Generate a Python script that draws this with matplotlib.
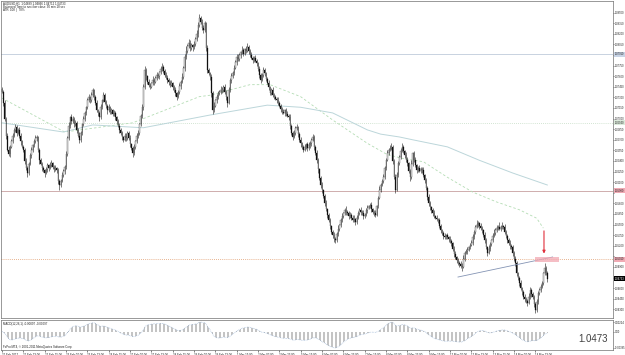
import numpy as np
import pandas as pd
import matplotlib
matplotlib.use("Agg")
import matplotlib.pyplot as plt

plt.rcParams['font.family'] = ['Liberation Sans', 'DejaVu Sans']

# ---------------- data (prices in pips above 1.0000) ----------------
close_pips = [
    738, 722, 700, 676, 656, 650, 660, 668, 676, 684,
    688, 680, 684, 676, 668, 660, 656, 640, 630, 623,
    636, 648, 656, 662, 668, 672, 674, 655, 641, 636,
    630, 627, 623, 628, 634, 630, 635, 637, 632, 628,
    630, 627, 612, 606, 612, 620, 626, 631, 650, 672,
    690, 702, 696, 700, 692, 694, 684, 676, 670, 680,
    692, 700, 708, 716, 726, 730, 726, 734, 740, 730,
    722, 712, 708, 702, 716, 726, 733, 724, 718, 712,
    716, 710, 712, 706, 708, 702, 696, 690, 684, 680,
    674, 670, 676, 672, 680, 672, 664, 658, 651, 660,
    668, 676, 680, 692, 704, 716, 744, 769, 760, 752,
    748, 745, 750, 755, 752, 758, 762, 760, 766, 770,
    773, 768, 762, 758, 755, 752, 748, 750, 745, 740,
    736, 731, 738, 746, 752, 759, 772, 787, 796, 802,
    807, 800, 804, 801, 806, 812, 820, 832, 842, 836,
    828, 825, 835, 800, 769, 764, 759, 736, 712, 718,
    726, 731, 736, 738, 741, 740, 745, 738, 730, 722,
    740, 755, 760, 765, 772, 780, 787, 784, 790, 794,
    797, 792, 798, 796, 801, 796, 790, 786, 783, 786,
    782, 778, 770, 762, 755, 762, 769, 764, 756, 751,
    744, 736, 740, 734, 730, 728, 726, 722, 718, 714,
    710, 708, 712, 706, 704, 702, 690, 680, 674, 680,
    686, 688, 678, 670, 665, 660, 656, 660, 664, 658,
    662, 665, 670, 674, 660, 651, 641, 628, 616, 606,
    599, 590, 580, 572, 564, 556, 548, 540, 535, 530,
    528, 536, 544, 549, 556, 562, 566, 571, 568, 566,
    562, 564, 560, 556, 558, 554, 560, 566, 571, 568,
    566, 562, 564, 570, 574, 576, 578, 572, 568, 566,
    564, 576, 588, 599, 606, 612, 617, 630, 642, 651,
    656, 658, 660, 640, 618, 599, 620, 637, 646, 654,
    660, 654, 648, 642, 637, 626, 617, 636, 651, 642,
    634, 627, 630, 626, 629, 627, 620, 613, 602, 589,
    580, 575, 570, 566, 562, 560, 558, 556, 548, 542,
    538, 534, 532, 535, 532, 530, 527, 524, 516, 508,
    504, 500, 496, 494, 492, 490, 502, 510, 512, 514,
    518, 521, 524, 532, 540, 547, 550, 552, 548, 545,
    542, 535, 528, 518, 510, 516, 522, 528, 534, 538,
    542, 545, 547, 544, 546, 548, 547, 540, 534, 528,
    524, 520, 518, 510, 502, 496, 481, 474, 467, 460,
    454, 448, 445, 442, 439, 448, 457, 452, 448, 438,
    429, 440, 453, 458, 462, 467, 481, 488, 482, 473,
]
first_open_pips = 742

upper_wick_pips = [
    3,2,4,2,3,5,2,3,4,2, 5,3,2,4,3,2,3,2,4,3, 2,3,4,2,3,5,3,2,4,3, 2,3,2,4,3,2,3,5,2,3,
    4,2,3,2,3,4,2,3,4,3, 5,2,4,3,2,4,3,2,5,3, 2,4,3,2,3,5,2,4,3,2, 3,4,2,3,5,2,4,3,2,3,
    4,2,3,2,4,3,2,3,4,2, 3,2,4,3,2,3,5,2,3,4, 2,3,4,2,3,4,5,6,3,2, 4,3,2,5,3,2,4,3,2,4,
    5,3,2,4,3,2,3,4,2,3, 4,2,3,4,2,5,3,4,6,3, 5,4,3,2,4,3,5,4,6,3, 5,4,3,2,4,3,2,4,3,5,
    2,4,3,2,5,3,2,4,3,2, 4,3,5,2,4,3,5,4,3,2, 5,3,2,4,6,3,2,4,3,2, 4,3,2,5,3,2,4,3,2,3,
    4,2,3,4,2,3,2,4,3,2, 3,4,2,3,5,2,4,3,2,4, 3,5,2,3,4,2,3,4,2,3, 5,3,2,4,3,2,4,3,2,3,
    4,2,3,5,2,3,4,2,3,4, 2,3,5,2,3,4,2,3,5,2, 3,4,2,3,5,2,4,3,2,4, 3,5,2,3,4,2,3,4,2,3,
    4,2,3,5,3,2,4,3,2,5, 3,4,6,2,3,4,5,3,2,4, 6,3,2,4,3,2,3,5,2,3, 4,2,3,4,2,3,4,2,3,2,
    4,3,2,3,4,2,3,2,4,3, 2,3,4,2,3,2,4,3,2,3, 4,2,3,2,4,3,5,2,3,4, 2,3,4,5,3,2,6,3,2,4,
    3,2,4,3,2,5,3,2,4,6, 3,4,2,6,3,5,2,4,3,2, 3,4,2,3,2,4,3,2,3,4, 2,3,4,2,3,5,4,3,2,3,
    2,4,3,2,4,3,2,8,4,3,
]
lower_wick_pips = [
    2,4,3,5,2,3,4,2,3,2, 3,4,2,3,5,2,3,4,3,5, 3,2,4,3,2,3,4,3,5,2, 4,3,5,2,3,4,2,3,4,3,
    2,4,5,7,3,2,3,4,2,3, 2,4,3,2,4,3,5,2,4,3, 3,2,4,3,2,3,4,2,3,4, 3,2,4,5,2,3,2,4,3,5,
    2,3,4,3,2,4,3,2,4,3, 5,3,2,4,3,2,4,3,6,2, 3,2,4,3,2,3,4,2,5,3, 4,3,2,3,4,2,3,2,4,3,
    2,4,3,2,4,5,3,2,4,3, 4,5,2,3,4,2,3,4,2,3, 2,4,3,5,2,3,2,4,3,2, 3,4,2,5,4,3,4,5,6,3,
    2,4,3,2,3,4,2,3,4,5, 2,3,4,2,3,2,4,3,2,4, 3,4,2,3,2,4,3,2,4,3, 2,4,3,5,4,2,3,4,3,2,
    4,3,2,4,3,2,4,3,2,4, 3,2,4,3,2,4,5,3,4,2, 3,2,4,3,5,3,4,2,3,4, 2,3,4,2,4,3,4,5,3,4,
    4,3,4,3,4,3,4,3,4,5, 4,3,2,3,2,3,2,3,4,3, 4,3,4,3,2,4,3,2,3,4, 3,4,3,2,3,2,3,4,3,4,
    3,2,3,2,3,2,3,2,3,2, 3,2,3,4,3,5,2,3,2,3, 2,3,4,3,4,3,5,2,3,4, 3,4,3,2,3,4,3,4,3,4,
    3,4,3,4,3,2,3,4,3,4, 3,4,3,2,3,4,3,4,3,4, 3,4,3,4,3,5,2,3,2,3, 2,3,2,3,2,3,2,3,4,3,
    4,3,4,3,5,2,3,2,3,2, 3,2,3,2,3,2,3,4,3,4, 3,4,3,4,3,4,4,3,4,3, 4,3,4,3,4,2,3,4,3,4,
    4,2,3,2,3,2,3,2,3,4,
]

# moving averages (bar index, pips)
fast_ma_bar = [0, 47, 98, 148, 156, 186, 201, 224, 248, 274, 289, 302, 316, 334, 353, 371, 388, 401, 406]
fast_ma_pips = [729, 681, 694, 731, 733, 748, 748, 731, 698, 665, 649, 643, 639, 617, 596, 582, 571, 559, 545]
slow_ma_bar = [0, 46, 68, 106, 156, 199, 224, 248, 274, 284, 298, 308, 334, 358, 383, 409]
slow_ma_pips = [694, 681, 691, 687, 705, 719, 716, 708, 684, 678, 674, 670, 660, 641, 623, 606]

# horizontal levels
level_blue = 1.0791
level_dotted = 1.0694
level_red = 1.0598
level_orange = 1.0501
bid_price = 1.04733

# trend line and markers (bar index, price)
trend_bars = [342, 413]
trend_prices = [1.04758, 1.05041]
zone_bars = [400, 418]
zone_prices = [1.0497, 1.0504]
arrow_bar = 406.5
arrow_prices = [1.0545, 1.0505]

time_labels = ["21 Feb 2012", "21 Feb 23:00", "22 Feb 15:00", "23 Feb 07:00", "23 Feb 23:00",
               "24 Feb 15:00", "27 Feb 07:00", "27 Feb 23:00", "28 Feb 15:00", "29 Feb 07:00",
               "29 Feb 23:00", "1 Mar 15:00", "2 Mar 07:00", "2 Mar 23:00", "5 Mar 15:00",
               "6 Mar 07:00", "6 Mar 23:00", "7 Mar 15:00", "8 Mar 07:00", "8 Mar 23:00",
               "9 Mar 15:00", "12 Mar 07:00", "12 Mar 23:00", "13 Mar 15:00", "14 Mar 07:00",
               "14 Mar 23:00"]
bars_per_label = 16

header_lines = ["AUDUSD,H1  1.04689 1.04866 1.04712 1.04733",
                "Balanced Time to next bar close: 30 min 18 sec",
                "ATR: 108  |  78%"]
macd_title = "MACD(12,26,1) -0.00097 -0.00097"
copyright_text = "FxPro MT4, \u00a9 2001-2011 MetaQuotes Software Corp."

# ---------------- derived ----------------
close = 1 + np.array(close_pips) / 10000.0
opens = np.concatenate([[1 + first_open_pips / 10000.0], close[:-1]])
up_w = np.array(upper_wick_pips) / 10000.0
lo_w = np.array(lower_wick_pips) / 10000.0
n = len(close)
x = np.arange(n)
high = np.maximum(opens, close) + up_w
low = np.minimum(opens, close) - lo_w

cs = pd.Series(close)
macd = (cs.ewm(span=12, adjust=False).mean() - cs.ewm(span=26, adjust=False).mean()).values

# ---------------- figure ----------------
W, H = 625, 355
fig = plt.figure(figsize=(W / 100, H / 100), dpi=100)
fig.patch.set_facecolor('white')

def rect(x0, y0, x1, y1):
    return [x0 / W, 1 - y1 / H, (x1 - x0) / W, (y1 - y0) / H]

PX_PER_BAR = 1.3333
def bar_at(px):
    return (px - 2) / PX_PER_BAR

ax = fig.add_axes(rect(1, 1, 613, 318))
axm = fig.add_axes(rect(1, 320, 613, 350))

P_PER_PX = 0.0001415
def price_at(py):
    return 1.0473 + (279 - py) * P_PER_PX

ax.set_xlim(bar_at(1), bar_at(613))
ax.set_ylim(price_at(318), price_at(1))

# horizontal levels
ax.axhline(level_blue, color='#c8d2e0', lw=0.7, zorder=1)
ax.axhline(level_dotted, color='#c4dcc4', lw=0.6, ls=(0, (1, 1.5)), zorder=1)
ax.axhline(level_red, color='#c8a0a0', lw=0.6, zorder=1)
ax.axhline(level_orange, color='#e09a6a', lw=0.6, ls=(0, (1, 1.5)), zorder=1)

# moving averages
ax.plot(fast_ma_bar, 1 + np.array(fast_ma_pips) / 10000.0, color='#b4dcb4', lw=0.6,
        ls=(0, (3, 2.5)), zorder=2)
ax.plot(slow_ma_bar, 1 + np.array(slow_ma_pips) / 10000.0, color='#bcd6da', lw=0.7, zorder=2)

# candles
ax.vlines(x, low, high, color='#101010', lw=0.38, zorder=3)
upc = close >= opens
body_h = np.maximum(np.abs(close - opens), 0.00005)
ax.bar(x, body_h, bottom=np.minimum(opens, close), width=0.6,
       color=np.where(upc, 'white', '#101010'), edgecolor='#101010', linewidth=0.2, zorder=4)

# trend line, zone and arrow
ax.plot(trend_bars, trend_prices, color='#8494b4', lw=0.6, zorder=5)
ax.fill_between(zone_bars, zone_prices[0], zone_prices[1], color='#f2a8b2', alpha=0.75,
                lw=0, zorder=5)
ax.annotate('', xy=(arrow_bar, arrow_prices[1]), xytext=(arrow_bar, arrow_prices[0]),
            arrowprops=dict(arrowstyle='-|>', color='#e0303c', lw=0.8, mutation_scale=4),
            zorder=6)

# right price axis (labels hidden where a level box covers them, as in MT4)
box_levels = [level_blue, level_dotted, level_red, level_orange, bid_price]
ax.yaxis.tick_right()
ticks = np.round(np.arange(1.0430, 1.08501, 0.0015), 4)
ax.set_yticks(ticks)
ax.set_yticklabels(["" if min(abs(t - b) for b in box_levels) < 0.0006 else f"{t:.5f}"
                    for t in ticks])
ax.tick_params(axis='y', labelsize=1.9, length=1.0, width=0.4, pad=0.5, colors='#202020')
ax.set_xticks([])
for s in ax.spines.values():
    s.set_color('#707070')
    s.set_linewidth(0.5)

ytr = ax.get_yaxis_transform()
def axis_box(price, fc, tc='#202020'):
    ax.text(1.0028, price, f"{price:.5f}", transform=ytr, fontsize=1.9, color=tc,
            ha='left', va='center', clip_on=False, zorder=10,
            bbox=dict(boxstyle='square,pad=0.2', fc=fc, ec='none'))

axis_box(level_blue, '#c8d4e6')
axis_box(level_dotted, '#dcebdc')
axis_box(level_red, '#f0aab4')
axis_box(level_orange, '#f0aab4')
axis_box(bid_price, '#000000', 'white')

# header text
for k, line in enumerate(header_lines):
    fig.text(3 / W, 1 - (3.3 + 3.6 * k) / H, line, fontsize=2.1, color='#202020',
             ha='left', va='center')

# ---------------- MACD window ----------------
axm.set_xlim(bar_at(1), bar_at(613))
mx, mn = macd.max(), macd.min()
rng = mx - mn
axm.set_ylim(mn - 0.08 * rng, mx + 0.08 * rng)
axm.bar(x, macd, width=0.6, color='#c4c4c4', lw=0, zorder=2)
axm.plot(x, macd, color='#9ab4d4', lw=0.5, ls=(0, (1, 1.2)), zorder=3)
axm.yaxis.tick_right()
axm.set_yticks([mn, 0, mx])
axm.set_yticklabels([f"{mn:.5f}", "0.00", f"{mx:.5f}"])
axm.tick_params(axis='y', labelsize=1.9, length=1.0, width=0.4, pad=0.5, colors='#202020')
pos = [i * bars_per_label for i in range(len(time_labels))]
axm.set_xticks(pos)
axm.set_xticklabels(time_labels)
axm.tick_params(axis='x', labelsize=2.1, length=1.2, width=0.4, pad=0.6, colors='#202020')
for lbl in axm.get_xticklabels():
    lbl.set_ha('left')
for s in axm.spines.values():
    s.set_color('#707070')
    s.set_linewidth(0.5)

axm.text(0.003, 0.88, macd_title, transform=axm.transAxes, fontsize=2.1, color='#202020',
         ha='left', va='center')
axm.text(0.003, 0.1, copyright_text, transform=axm.transAxes, fontsize=2.1, color='#202020',
         ha='left', va='center')
fig.text(608 / W, 1 - 339 / H, "1.0473", fontsize=7, color='#404040', ha='right', va='center')

fig.savefig("out.png", dpi=100, facecolor='white')
